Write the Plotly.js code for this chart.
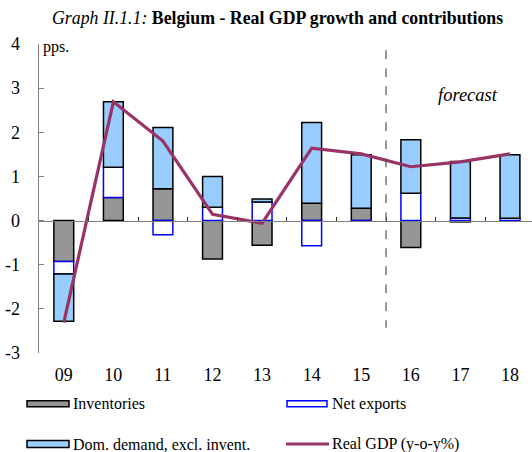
<!DOCTYPE html>
<html>
<head>
<meta charset="utf-8">
<script src="https://cdn.plot.ly/plotly-3.0.1.min.js"></script>
<style>html,body{margin:0;padding:0;background:#fff;}#chart{width:532px;height:452px;}</style>
</head>
<body>
<div id="chart"></div>
<script>
var years = ['09','10','11','12','13','14','15','16','17','18'];
var inventories = [-0.93, 0.52, 0.72, -0.87, -0.56, 0.39, 0.28, -0.61, -0.03, 0.00];
var netExports = [-0.28, 0.69, -0.32, 0.30, 0.42, -0.57, -0.01, 0.62, 0.06, 0.05];
var domDemand = [-1.07, 1.48, 1.39, 0.70, 0.07, 1.83, 1.21, 1.21, 1.28, 1.44];
var realGDP = [-2.31, 2.69, 1.80, 0.14, -0.06, 1.64, 1.51, 1.22, 1.33, 1.51];
var yTicks = [-3, -2, -1, 0, 1, 2, 3, 4];
var boundaryTicks = [0.5, 1.5, 2.5, 3.5, 4.5, 5.5, 6.5, 7.5, 8.5];

var serif = 'Liberation Serif';
var xRange = [-0.5, 9.444];
// pixel helpers for legend placement (plot area: x 39..532, y 44..353.3)
function px(x){ return (x - 39) / 493; }
function py(y){ return (353.3 - y) / 309.4; }

var barW = 0.4;
var traces = [
  {type:'bar', x: years, y: inventories, name:'Inventories', width: barW,
   marker:{color:'#969696', line:{color:'#000000', width:1.5}}, showlegend:false},
  {type:'bar', x: years, y: netExports, name:'Net exports', width: barW,
   marker:{color:'#ffffff', line:{color:'#0000ff', width:1.5}}, showlegend:false},
  {type:'bar', x: years, y: domDemand, name:'Dom. demand, excl. invent.', width: barW,
   marker:{color:'#99ccff', line:{color:'#000000', width:1.5}}, showlegend:false},
  {type:'scatter', mode:'lines', x: years, y: realGDP, name:'Real GDP (y-o-y%)',
   line:{color:'#993366', width:3.2}, showlegend:false},
  {type:'scatter', mode:'markers', x:[0], y:[null], xaxis:'x2', showlegend:false, hoverinfo:'skip'}
];

var shapes = [
  // forecast divider between '15' (index 6) and '16' (index 7)
  {type:'line', xref:'x', yref:'y', x0:6.5, x1:6.5, y0:3.86, y1:-2.43,
   line:{color:'#555555', width:1.2, dash:'dash'}},
  // legend symbols
  {type:'rect', xref:'paper', yref:'paper', x0:px(27), x1:px(69), y0:py(407), y1:py(401),
   fillcolor:'#969696', line:{color:'#000000', width:1.5}},
  {type:'rect', xref:'paper', yref:'paper', x0:px(287), x1:px(327), y0:py(407), y1:py(401),
   fillcolor:'#ffffff', line:{color:'#0000ff', width:1.5}},
  {type:'rect', xref:'paper', yref:'paper', x0:px(27), x1:px(69), y0:py(448), y1:py(441),
   fillcolor:'#99ccff', line:{color:'#000000', width:1.5}},
  {type:'line', xref:'paper', yref:'paper', x0:px(286), x1:px(329), y0:py(444.5), y1:py(444.5),
   line:{color:'#993366', width:3}}
];

var legFont = {family: serif, size: 16, color:'#000'};
var annotations = [
  {xref:'paper', yref:'paper', x:px(277), y:py(18), xanchor:'center', yanchor:'middle',
   text:'<i>Graph II.1.1:</i> <b>Belgium - Real GDP growth and contributions</b>', showarrow:false,
   font:{family: serif, size:17.8, color:'#000'}},
  {xref:'x', yref:'y', x:8.15, y:2.84, text:'<i>forecast</i>', showarrow:false,
   font:{family: serif, size:18.5, color:'#000'}},
  {xref:'paper', yref:'paper', x:px(41), y:py(47), xanchor:'left', yanchor:'middle',
   text:'pps.', showarrow:false, font:{family: serif, size:16, color:'#000'}},
  {xref:'paper', yref:'paper', x:px(71), y:py(404), xanchor:'left', yanchor:'middle',
   text:'Inventories', showarrow:false, font:legFont},
  {xref:'paper', yref:'paper', x:px(330), y:py(404), xanchor:'left', yanchor:'middle',
   text:'Net exports', showarrow:false, font:legFont},
  {xref:'paper', yref:'paper', x:px(71), y:py(444.5), xanchor:'left', yanchor:'middle',
   text:'Dom. demand, excl. invent.', showarrow:false, font:legFont},
  {xref:'paper', yref:'paper', x:px(330), y:py(444.5), xanchor:'left', yanchor:'middle',
   text:'Real GDP (y-o-y%)', showarrow:false, font:legFont}
];

var layout = {
  width:532, height:452,
  margin:{l:39, r:0, t:44, b:98.7, pad:0},
  paper_bgcolor:'#ffffff', plot_bgcolor:'#ffffff',
  barmode:'relative',
  xaxis:{type:'category', range:xRange, showline:false, showgrid:false, zeroline:false,
         ticks:'outside', ticklen:5, tickcolor:'rgba(0,0,0,0)',
         tickfont:{family: serif, size:18, color:'#000'}, fixedrange:true},
  xaxis2:{overlaying:'x', anchor:'free', position:3/7, side:'bottom', type:'linear',
          range:xRange, showline:true, linecolor:'#7f7f7f', linewidth:1.5,
          showgrid:false, zeroline:false, ticks:'inside', ticklen:4, tickwidth:1,
          tickcolor:'#333333', tickmode:'array', tickvals:boundaryTicks, showticklabels:false},
  yaxis:{range:[-3,4], tickmode:'array', tickvals:yTicks, ticktext:yTicks.map(String),
         showline:true, linecolor:'#7f7f7f', linewidth:1.5, mirror:false,
         ticks:'inside', ticklen:5, tickcolor:'#7f7f7f', tickwidth:1,
         showgrid:false, zeroline:false, ticklabelstandoff:14,
         tickfont:{family: serif, size:18, color:'#000'}},
  shapes:shapes,
  annotations:annotations,
  showlegend:false
};

Plotly.newPlot('chart', traces, layout, {displayModeBar:false, staticPlot:true});
</script>
</body>
</html>
